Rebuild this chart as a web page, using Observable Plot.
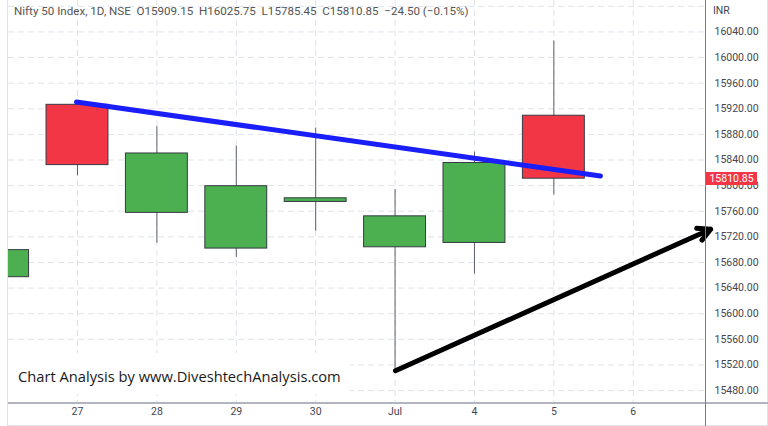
<!DOCTYPE html>
<html><head><meta charset="utf-8">
<script src="https://cdn.jsdelivr.net/npm/d3@7"></script>
<script src="https://cdn.jsdelivr.net/npm/@observablehq/plot@0.6"></script>
<style>
body{margin:0;background:#fff;}
#wrap{position:relative;width:768px;height:426px;overflow:hidden;font-family:Roboto,"Open Sans",sans-serif;background:#fff;}
#wrap svg{position:absolute;left:0;top:0;}
.ov{position:absolute;white-space:nowrap;}
</style></head><body><div id="wrap"></div>
<script>
// Daily OHLC, Nifty 50 (NSE), Jun 24 – Jul 5
const dates  = ["Jun 24","Jun 27","Jun 28","Jun 29","Jun 30","Jul 1","Jul 4","Jul 5"];
const dayIdx = [0, 1, 2, 3, 4, 5, 6, 7];
const opens  = [15657.0, 15926.2, 15757.45, 15701.7, 15774.5, 15703.7, 15710.5, 15909.15];
const highs  = [15749.25, 15927.45, 15892.1, 15861.6, 15890.0, 15793.95, 15852.35, 16025.75];
const lows   = [15611.0, 15815.3, 15710.15, 15687.8, 15728.8, 15511.05, 15661.8, 15785.45];
const closes = [15699.25, 15832.05, 15850.2, 15799.1, 15780.25, 15752.05, 15835.35, 15810.85];

// axis ticks
const xTickIdx    = [1, 2, 3, 4, 5, 6, 7, 8];
const xTickLabels = ["27", "28", "29", "30", "Jul", "4", "5", "6"];
const priceTicks  = [15480, 15520, 15560, 15600, 15640, 15680, 15720, 15760, 15800, 15840, 15880, 15920, 15960, 16000, 16040];
const gridPrices  = [...priceTicks, 16080];

// drawn trend lines (index, price)
const trendIdx    = [0.987, 7.587];
const trendPrice  = [15930.6, 15815.0];
const arrowIdx    = [5.005, 8.975];
const arrowPrice  = [15511.0, 15732.0];

const candles = dates.map((d, k) => ({date: d, i: dayIdx[k], o: opens[k], h: highs[k], l: lows[k], c: closes[k]}));
const trend = trendIdx.map((i, k) => ({i, p: trendPrice[k]}));
const arrow = [{i1: arrowIdx[0], p1: arrowPrice[0], i2: arrowIdx[1], p2: arrowPrice[1]}];
const last = candles[candles.length - 1];
const prevClose = closes[closes.length - 2];
const hw = 0.39;

const plot = Plot.plot({
  width: 768, height: 426,
  marginLeft: 8, marginRight: 63, marginTop: 0, marginBottom: 22,
  style: {fontFamily: "Roboto, sans-serif", fontSize: "10.5px", color: "#434651", background: "transparent"},
  x: {type: "linear", domain: [0.131, 8.91], ticks: xTickIdx, tickFormat: i => xTickLabels[xTickIdx.indexOf(i)], tickSize: 0, tickPadding: 3, label: null},
  y: {domain: [15458.2, 16089.1], axis: "right", ticks: priceTicks, tickFormat: d3.format(".2f"), tickSize: 0, tickPadding: 9, label: null},
  marks: [
    Plot.ruleX(xTickIdx, {stroke: "#e0e3eb", strokeDasharray: "6,4"}),
    Plot.ruleY(gridPrices, {stroke: "#e0e3eb", strokeDasharray: "6,4"}),
    Plot.ruleX(candles, {x: "i", y1: "l", y2: "h", stroke: "#5d606b", strokeWidth: 1, clip: true}),
    Plot.rect(candles, {x1: d => d.i - hw, x2: d => d.i + hw, y1: "o", y2: "c",
      fill: d => d.c >= d.o ? "#4caf50" : "#f23645", stroke: "#363a45", strokeWidth: 1, clip: true}),
    Plot.line(trend, {x: "i", y: "p", stroke: "#1a1ef8", strokeWidth: 5}),
    Plot.arrow(arrow, {x1: "i1", y1: "p1", x2: "i2", y2: "p2", stroke: "#000", strokeWidth: 5, headLength: 4.2, headAngle: 55, strokeLinejoin: "miter"}),
    Plot.arrow(arrow, {x1: "i1", y1: "p1", x2: "i2", y2: "p2", stroke: "#000", strokeWidth: 3, headLength: 4.5, headAngle: 40, strokeLinejoin: "miter"})
  ]
});

const wrap = document.getElementById("wrap");
wrap.appendChild(plot);

function ov(css, text) {
  const d = document.createElement("div");
  d.className = "ov";
  d.style.cssText = css;
  if (text != null) d.textContent = text;
  wrap.appendChild(d);
  return d;
}
// frame lines
ov("left:7px;top:0;width:1px;height:426px;background:#e0e3eb;");
ov("left:767px;top:0;width:1px;height:426px;background:#e0e3eb;");
ov("left:7px;top:425px;width:761px;height:1px;background:#e0e3eb;");
ov("left:8px;top:402px;width:760px;height:2px;background:#b2b5be;");
ov("left:705px;top:0;width:1px;height:426px;background:#787b86;");

// header
const chg = last.c - prevClose;
const pct = chg / prevClose * 100;
const fmtSigned = v => (v < 0 ? "−" : "+") + Math.abs(v).toFixed(2);
ov("left:14px;top:4px;font-size:11.6px;color:#555;font-family:Roboto,sans-serif;white-space:pre;",
  `Nifty 50 Index, 1D, NSE  O${last.o.toFixed(2)}  H${last.h.toFixed(2)}  L${last.l.toFixed(2)}  C${last.c.toFixed(2)}  ${fmtSigned(chg)} (${fmtSigned(pct)}%)`);
ov("left:713px;top:4px;font-size:10.5px;color:#434651;font-family:Roboto,sans-serif;", "INR");

// last price label
const yLast = plot.scale("y").apply(last.c);
ov(`left:706px;top:${yLast - 6.5}px;width:51px;height:13px;background:#f23645;color:#fff;font-size:10.5px;line-height:13px;text-align:center;font-family:Roboto,sans-serif;`, last.c.toFixed(2));

// watermark
ov("left:8px;top:353px;width:342px;height:41px;background:#fff;");
ov("left:18px;top:366px;font-size:14.7px;color:#1a1a1a;font-family:'Open Sans',sans-serif;", "Chart Analysis by www.DiveshtechAnalysis.com");
</script></body></html>
